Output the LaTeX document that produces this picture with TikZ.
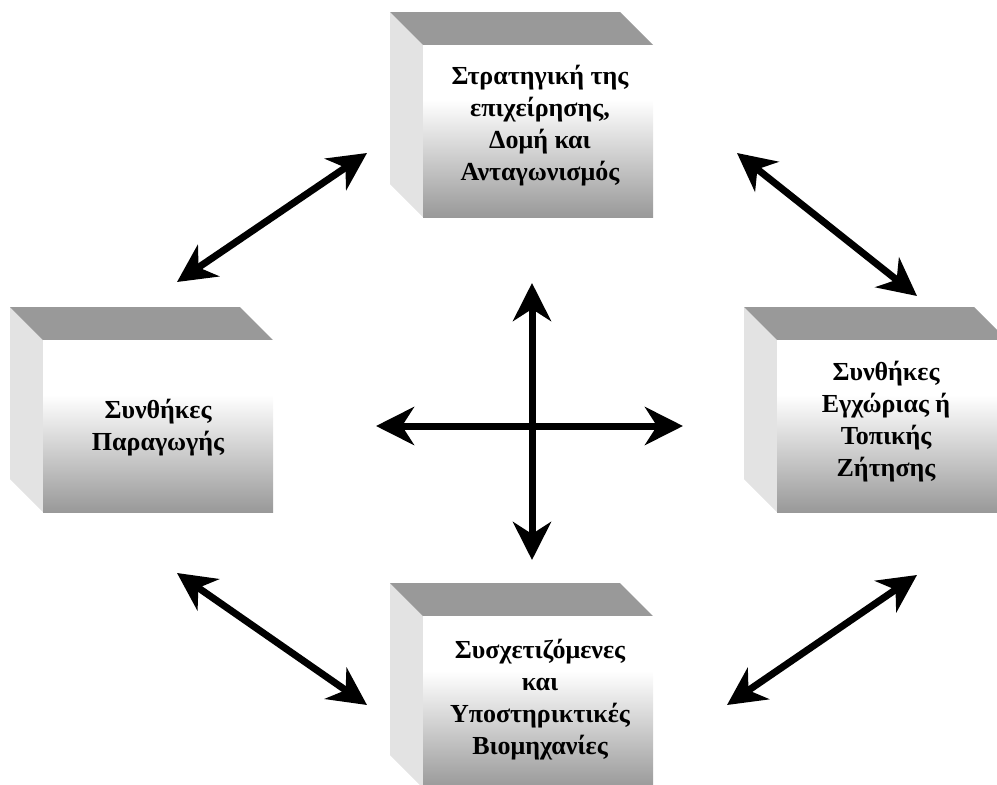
\documentclass[tikz,border=0pt]{standalone}
\usepackage{fontspec}
\setmainfont{Liberation Serif}
\usepackage{xcolor}
\usetikzlibrary{arrows.meta}

\definecolor{topgray}{gray}{0.6}
\definecolor{sidegray}{gray}{0.89}
\pgfdeclareverticalshading{cubefront}{100bp}{color(0bp)=(topgray); color(25bp)=(topgray); color(59bp)=(white); color(100bp)=(white)}

\newcommand{\drawcube}[2]{%
\fill[sidegray] (#1,#2) -- ++(33,33) -- ++(0,172) -- ++(-33,-33) -- cycle;
\fill[topgray] (#1,#2) -- ++(230,0) -- ++(33,33) -- ++(-230,0) -- cycle;
\shade[shading=cubefront] (#1+33,#2+33) rectangle ++(230,172);
}

\begin{document}
\begin{tikzpicture}[x=1pt,y=-1pt]
\tikzset{boxtext/.style={align=center,font=\bfseries\fontsize{26}{32}\selectfont}}
\tikzset{dblarrow/.style={{Stealth[length=38pt,width=38pt,inset=12pt]}-{Stealth[length=38pt,width=38pt,inset=12pt]},line width=7pt}}

\useasboundingbox (0,0) rectangle (997,785);
\clip (0,0) rectangle (997,785);

\drawcube{390}{12}
\drawcube{10}{307}
\drawcube{744}{307}
\drawcube{390}{583}

\node[boxtext] (strat) at (540,126) {Στρατηγική της\\επιχείρησης,\\Δομή και\\Ανταγωνισμός};
\node[boxtext] (paragogi) at (158,428) {Συνθήκες\\Παραγωγής};
\node[boxtext] (zitisi) at (886,422) {Συνθήκες\\Εγχώριας ή\\Τοπικής\\Ζήτησης};
\node[boxtext] (viom) at (540,700) {Συσχετιζόμενες\\και\\Υποστηρικτικές\\Βιομηχανίες};

\coordinate (tlA) at (177,282);
\coordinate (tlB) at (367,153);
\coordinate (trA) at (737,153);
\coordinate (trB) at (917,296);
\coordinate (blA) at (177,573);
\coordinate (blB) at (367,705);
\coordinate (brA) at (917,575);
\coordinate (brB) at (727,705);
\coordinate (up) at (532,283);
\coordinate (down) at (532,560);
\coordinate (left) at (376,426);
\coordinate (right) at (683,426);

\draw[dblarrow] (tlA) -- (tlB);
\draw[dblarrow] (trA) -- (trB);
\draw[dblarrow] (blA) -- (blB);
\draw[dblarrow] (brA) -- (brB);
\draw[dblarrow] (up) -- (down);
\draw[dblarrow] (left) -- (right);

\end{tikzpicture}
\end{document}
